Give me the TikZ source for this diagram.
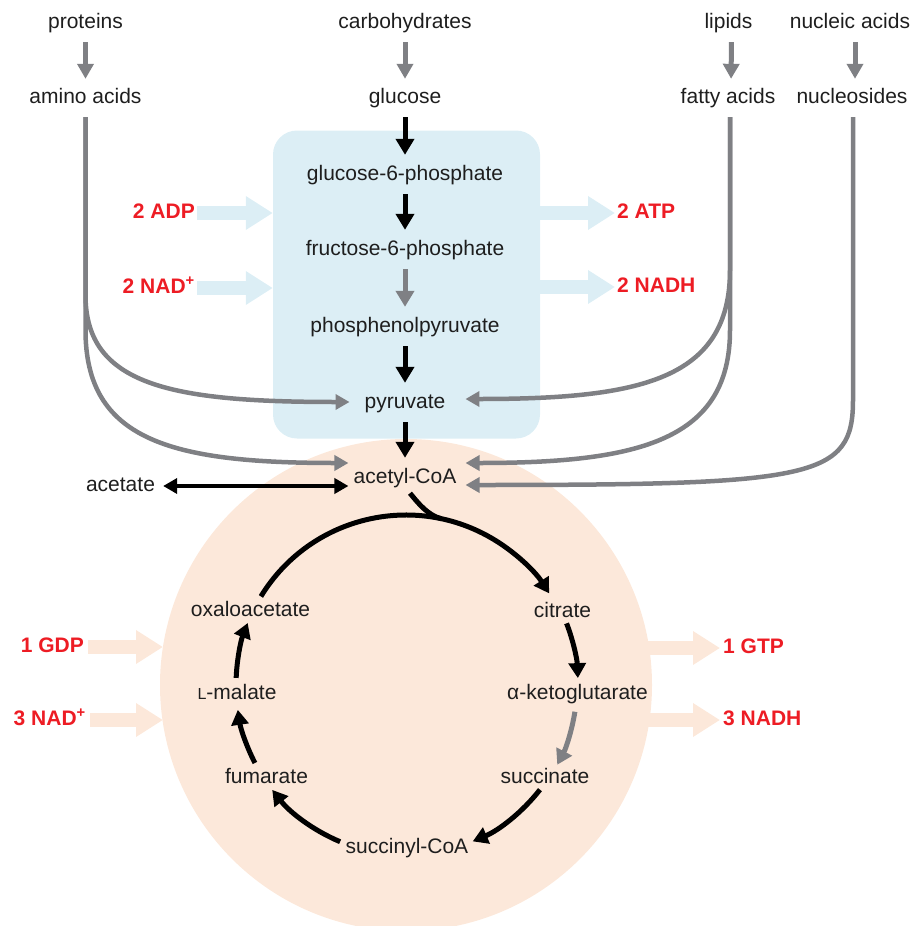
\documentclass[tikz,border=0pt]{standalone}
\usepackage{fontspec}
\setmainfont{Liberation Sans}
\usetikzlibrary{arrows.meta,calc}
\definecolor{boxblue}{HTML}{DCEEF5}
\definecolor{peach}{HTML}{FCE8DA}
\definecolor{arrgrey}{HTML}{7F8084}
\definecolor{lblred}{HTML}{ED1C24}
\definecolor{txt}{HTML}{1E1E1E}
\begin{document}
\begin{tikzpicture}[x=1pt,y=1pt,
  lbl/.style={inner sep=0pt, text height=15pt, text depth=5pt, anchor=base, text=txt, font=\fontsize{21}{25}\selectfont},
  redlbl/.style={lbl, text=lblred, font=\fontsize{21}{25}\selectfont\bfseries},
  greyarr/.style={draw=arrgrey, line width=4.5pt, -{Triangle[length=14pt,width=15pt]}},
  greydown/.style={greyarr, line width=5pt, shorten <=9pt, shorten >=9pt, -{Triangle[length=15pt,width=16pt]}},
  blkdown/.style={draw=black, line width=5pt, -{Triangle[length=16pt,width=18pt]}, shorten <=9pt, shorten >=10pt},
  greyglyc/.style={blkdown, draw=arrgrey},
  cyc/.style={draw=black, line width=5pt, -{Triangle[length=15pt,width=17pt]}},
  cycgrey/.style={cyc, draw=arrgrey},
  bigblue/.style={draw=boxblue, line width=14pt, -{Triangle[length=27pt,width=32pt]}},
  bigpeach/.style={draw=peach, line width=14pt, -{Triangle[length=27pt,width=32pt]}}
]
\useasboundingbox (0,0) rectangle (918,-926);

% regions
\node[fill=boxblue, rounded corners=24pt, minimum width=267pt, minimum height=308pt, inner sep=0pt] (glybox) at (406.5,-284.5) {};
\node[circle, fill=peach, minimum size=492pt, inner sep=0pt] (tca) at (406,-685) {};
\coordinate (cc) at (406,-685);

% top sources
\node[lbl] (proteins) at (85.5,-28) {proteins};
\node[lbl] (carbs) at (405,-28) {carbohydrates};
\node[lbl] (lipids) at (728.5,-28) {lipids};
\node[lbl] (nucleic) at (850,-28) {nucleic acids};
\node[lbl] (amino) at (85.5,-103) {amino acids};
\node[lbl] (glucose) at (405,-103) {glucose};
\node[lbl] (fatty) at (728,-103) {fatty acids};
\node[lbl] (nucleosides) at (852,-103) {nucleosides};

% glycolysis
\node[lbl] (g6p) at (405,-180) {glucose-6-phosphate};
\node[lbl] (f6p) at (405,-255) {fructose-6-phosphate};
\node[lbl] (pep) at (405,-332) {phosphenolpyruvate};
\node[lbl] (pyr) at (405,-408) {pyruvate};
\node[lbl] (acoa) at (405,-483) {acetyl-CoA};
\node[lbl] (acetate) at (120.5,-491) {acetate};

% TCA cycle
\node[lbl] (oxalo) at (250.5,-616) {oxaloacetate};
\node[lbl] (malate) at (237,-699) {{\fontsize{16}{16}\selectfont L}-malate};
\node[lbl] (fumarate) at (266.5,-783) {fumarate};
\node[lbl] (citrate) at (562.5,-617) {citrate};
\node[lbl] (akg) at (577.5,-699) {α-ketoglutarate};
\node[lbl] (succinate) at (545,-783) {succinate};
\node[lbl] (succoa) at (407,-853) {succinyl-CoA};

% red labels
\node[redlbl, anchor=base east] (adp) at (195,-218) {2 ADP};
\node[redlbl, anchor=base east] (nadL) at (195,-293) {2 NAD\textsuperscript{+}};
\node[redlbl, anchor=base west] (atp) at (617,-218) {2 ATP};
\node[redlbl, anchor=base west] (nadhR) at (617,-292) {2 NADH};
\node[redlbl, anchor=base east] (gdp) at (84,-652) {1 GDP};
\node[redlbl, anchor=base east] (nad3) at (86,-725) {3 NAD\textsuperscript{+}};
\node[redlbl, anchor=base west] (gtp) at (723,-653) {1 GTP};
\node[redlbl, anchor=base west] (nadh3) at (723,-725) {3 NADH};

% broad arrows
\draw[bigblue] ([xshift=2pt]adp.east) -- (adp.east -| glybox.west);
\draw[bigblue] ([xshift=2pt]nadL.east) -- (nadL.east -| glybox.west);
\draw[bigblue] (glybox.east |- atp.west) -- ([xshift=-2pt]atp.west);
\draw[bigblue] (glybox.east |- nadhR.west) -- ([xshift=-2pt]nadhR.west);
\coordinate (tcaLa) at (163,-647);
\coordinate (tcaLb) at (163,-720);
\coordinate (tcaRa) at (648,-648);
\coordinate (tcaRb) at (648,-720);
\draw[bigpeach] ([xshift=4pt]gdp.east) -- (tcaLa);
\draw[bigpeach] ([xshift=4pt]nad3.east) -- (tcaLb);
\draw[bigpeach] (tcaRa) -- ([xshift=-3pt]gtp.west);
\draw[bigpeach] (tcaRb) -- ([xshift=-3pt]nadh3.west);

% source arrows
\draw[greydown] (proteins) -- (amino);
\draw[greydown] (carbs) -- (glucose);
\draw[greydown] ([xshift=3pt]lipids.south) -- ([xshift=3pt]fatty.north);
\draw[greydown] ([xshift=5pt]nucleic.south) -- ([xshift=3pt]nucleosides.north);

% glycolysis arrows
\draw[blkdown] (glucose) -- (g6p);
\draw[blkdown] (g6p) -- (f6p);
\draw[greyglyc] (f6p) -- (pep);
\draw[blkdown] (pep) -- (pyr);
\draw[blkdown] (pyr) -- (acoa);

% feeder curves
\draw[greyarr] ([yshift=-9pt]amino.south) -- (85.5,-295) .. controls (85.5,-385) and (170,-402) .. ([xshift=-15pt,yshift=1pt]pyr.west);
\draw[greyarr] ([yshift=-9pt]amino.south) -- (85.5,-330) .. controls (85.5,-440) and (170,-463) .. ([xshift=-5pt,yshift=15pt]acoa.west);
\draw[greyarr] ([xshift=2pt,yshift=-9pt]fatty.south) -- (730,-270) .. controls (730,-380) and (640,-399) .. ([xshift=20pt,yshift=4pt]pyr.east);
\draw[greyarr] ([xshift=2pt,yshift=-9pt]fatty.south) -- (730,-330) .. controls (730,-440) and (640,-463) .. ([xshift=9pt,yshift=15pt]acoa.east);
\draw[greyarr] ([xshift=1pt,yshift=-9pt]nucleosides.south) -- (853,-400) .. controls (853,-478) and (815,-485) .. ([xshift=9pt,yshift=-7pt]acoa.east);

% acetate
\draw[draw=black, line width=4pt, {Triangle[length=14pt,width=15pt]}-{Triangle[length=14pt,width=15pt]}] ([xshift=8pt]acetate.east) -- ([xshift=-5pt,yshift=-8pt]acoa.west);

% cycle
\draw[line width=5pt] ([shift={(5pt,-5pt)}]acoa.south) .. controls (418,-503) and (428,-515.5) .. ($(cc)+(78:170)$);
\draw[cyc] ($(cc)+(148.6:170)$) arc[start angle=148.6, end angle=32.6, radius=170];
\draw[cyc] ($(cc)+(21:172)$) arc[start angle=21, end angle=2.3, radius=172];
\draw[cycgrey] ($(cc)+(-9:171)$) arc[start angle=-9, end angle=-27.8, radius=171];
\draw[cyc] ($(cc)+(-38:170)$) arc[start angle=-38, end angle=-66.9, radius=170];
\draw[cyc] ($(cc)+(-112.8:170)$) arc[start angle=-112.8, end angle=-141.9, radius=170];
\draw[cyc] ($(cc)+(-152.7:170)$) arc[start angle=-152.7, end angle=-171.6, radius=170];
\draw[cyc] ($(cc)+(177.6:170)$) arc[start angle=177.6, end angle=158.6, radius=170];
\end{tikzpicture}
\end{document}
